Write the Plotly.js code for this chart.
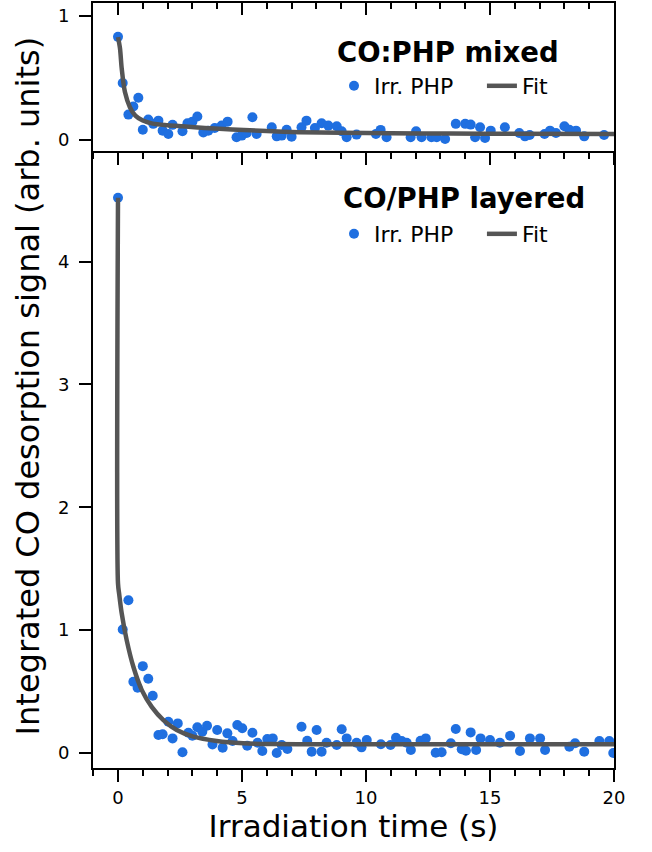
<!DOCTYPE html>
<html>
<head>
<meta charset="utf-8">
<script src="https://cdn.plot.ly/plotly-3.0.1.min.js"></script>
<style>html,body{margin:0;padding:0;background:#fff;}#chart{width:652px;height:852px;}</style>
</head>
<body>
<div id="chart"></div>
<script>
// ---- Data ----
// Top panel: CO:PHP mixed
const mixedTime = [0, 0.19, 0.42, 0.62, 0.82, 1.0, 1.22, 1.42, 1.63, 1.8, 2.03, 2.2, 2.6, 2.8, 3.0, 3.2, 3.44, 3.64, 3.9, 4.18, 4.42, 4.78, 4.99, 5.19, 5.42, 5.59, 6.2, 6.4, 6.6, 6.8, 7.0, 7.4, 7.6, 7.94, 8.21, 8.48, 8.82, 9.02, 9.22, 9.62, 10.4, 10.59, 10.83, 11.8, 12.02, 12.24, 12.64, 12.85, 13.19, 13.62, 14.0, 14.22, 14.4, 14.6, 14.8, 15.03, 15.6, 16.18, 16.41, 16.6, 17.2, 17.42, 17.66, 18.0, 18.2, 18.47, 18.8, 19.6];
const mixedSignal = [0.832, 0.458, 0.203, 0.268, 0.339, 0.081, 0.163, 0.128, 0.154, 0.073, 0.046, 0.12, 0.068, 0.133, 0.146, 0.187, 0.059, 0.073, 0.095, 0.114, 0.146, 0.019, 0.033, 0.054, 0.181, 0.046, 0.1, 0.027, 0.033, 0.081, 0.024, 0.1, 0.154, 0.095, 0.133, 0.114, 0.108, 0.068, 0.019, 0.041, 0.046, 0.079, 0.019, 0.019, 0.068, 0.019, 0.019, 0.019, 0.005, 0.128, 0.128, 0.122, 0.019, 0.1, 0.014, 0.073, 0.1, 0.054, 0.027, 0.038, 0.046, 0.073, 0.054, 0.108, 0.081, 0.073, 0.027, 0.038];
const mixedFitTime = [0, 0.08, 0.15, 0.28, 0.48, 0.7, 1.0, 1.4, 2.0, 2.6, 3.5, 4.6, 6.0, 7.3, 9.0, 11.0, 13.4, 16.0, 20.0];
const mixedFit = [0.83, 0.74, 0.575, 0.385, 0.263, 0.195, 0.155, 0.13, 0.117, 0.108, 0.095, 0.082, 0.07, 0.061, 0.056, 0.052, 0.05, 0.048, 0.046];

// Bottom panel: CO/PHP layered
const layeredTime = [0, 0.19, 0.42, 0.62, 0.79, 1.0, 1.22, 1.4, 1.63, 1.8, 2.03, 2.2, 2.41, 2.6, 2.84, 3.0, 3.2, 3.4, 3.59, 3.81, 4.0, 4.22, 4.41, 4.62, 4.81, 5.01, 5.21, 5.42, 5.63, 5.82, 6.02, 6.24, 6.4, 6.6, 6.83, 7.4, 7.63, 7.81, 8.01, 8.21, 8.41, 8.82, 9.02, 9.22, 9.62, 9.82, 10.03, 10.6, 10.99, 11.21, 11.44, 11.64, 11.81, 12.2, 12.41, 12.81, 13.05, 13.42, 13.62, 13.86, 14.03, 14.22, 14.44, 14.62, 15.0, 15.4, 15.81, 16.21, 16.61, 17.02, 17.22, 18.2, 18.43, 18.8, 19.41, 19.81, 19.97];
const layeredSignal = [4.52, 1.005, 1.244, 0.58, 0.531, 0.707, 0.604, 0.466, 0.146, 0.152, 0.255, 0.119, 0.241, 0.006, 0.165, 0.141, 0.209, 0.173, 0.222, 0.07, 0.187, 0.043, 0.16, 0.098, 0.228, 0.201, 0.059, 0.165, 0.084, 0.016, 0.114, 0.119, 0.0, 0.065, 0.033, 0.214, 0.1, 0.011, 0.187, 0.011, 0.084, 0.065, 0.193, 0.119, 0.084, 0.046, 0.106, 0.071, 0.065, 0.124, 0.098, 0.084, 0.024, 0.1, 0.119, 0.002, 0.006, 0.079, 0.195, 0.03, 0.019, 0.168, 0.024, 0.119, 0.106, 0.084, 0.141, 0.016, 0.119, 0.119, 0.024, 0.051, 0.079, 0.011, 0.098, 0.098, 0.0];
const layeredFitTime = [0, 0, 0.05, 0.15, 0.35, 0.62, 0.96, 1.36, 1.83, 2.37, 3.04, 3.98, 5.05, 6.13, 8.0, 12.0, 16.0, 20.0];
const layeredFit = [4.52, 1.38, 1.29, 1.136, 0.919, 0.702, 0.512, 0.376, 0.268, 0.187, 0.133, 0.098, 0.079, 0.073, 0.071, 0.071, 0.071, 0.071];

const xTickVals = [0, 5, 10, 15, 20];
const panelTitles = ['CO:PHP mixed', 'CO/PHP layered'];
const seriesNames = ['Irr. PHP', 'Fit'];
const xTitle = 'Irradiation time (s)';
const yTitle = 'Integrated CO desorption signal (arb. units)';

// ---- Styles ----
const dotColor = '#1f6fe0';
const fitColor = '#555555';
const FONT = 'DejaVu Sans, Verdana, sans-serif';
const split = 0.8068;

const traces = [
  {x: mixedTime, y: mixedSignal, xaxis: 'x2', yaxis: 'y2', mode: 'markers', name: seriesNames[0],
   marker: {color: dotColor, size: 10}, legend: 'legend'},
  {x: mixedFitTime, y: mixedFit, xaxis: 'x2', yaxis: 'y2', mode: 'lines', name: seriesNames[1],
   line: {color: fitColor, width: 4.5, shape: 'spline', smoothing: 0.8}, legend: 'legend2'},
  {x: layeredTime, y: layeredSignal, xaxis: 'x', yaxis: 'y', mode: 'markers', name: seriesNames[0],
   marker: {color: dotColor, size: 10}, legend: 'legend3'},
  {x: layeredFitTime, y: layeredFit, xaxis: 'x', yaxis: 'y', mode: 'lines', name: seriesNames[1],
   line: {color: fitColor, width: 4.5, shape: 'spline', smoothing: 0.8}, legend: 'legend4'},
  // invisible helper trace for top mirror axis
  {x: [0], y: [0], xaxis: 'x3', yaxis: 'y2', mode: 'markers', marker: {opacity: 0}, showlegend: false, hoverinfo: 'skip'}
];

const xRange = [-1.008, 20];
const tickFont = {family: FONT, size: 18, color: '#000'};
const baseX = {
  range: xRange, tickvals: xTickVals, ticks: 'outside', ticklen: 12, tickwidth: 2, tickcolor: '#000',
  showline: true, linewidth: 2, linecolor: '#000', zeroline: false, showgrid: false,
  minor: {dtick: 1, tick0: 0, ticks: 'outside', ticklen: 6, tickwidth: 2, tickcolor: '#000', showgrid: false}
};

const legendBase = {orientation: 'h', xanchor: 'left', yanchor: 'middle',
  font: {family: FONT, size: 22}, bgcolor: 'rgba(0,0,0,0)', itemwidth: 30, tracegroupgap: 0};

const layout = {
  width: 652, height: 852,
  margin: {l: 93, r: 38, t: 3, b: 84},
  paper_bgcolor: '#fff', plot_bgcolor: '#fff',
  font: {family: FONT, color: '#000'},
  xaxis: Object.assign({}, baseX, {
    anchor: 'y', tickfont: tickFont, ticklabelstandoff: 0,
    title: {text: xTitle, font: {family: FONT, size: 31}, standoff: 9}
  }),
  xaxis2: Object.assign({}, baseX, {anchor: 'y2', showticklabels: false, matches: 'x'}),
  xaxis3: Object.assign({}, baseX, {anchor: 'y2', overlaying: 'x2', side: 'top', ticks: 'inside', showticklabels: false,
    minor: {dtick: 1, tick0: 0, ticks: 'inside', ticklen: 6, tickwidth: 2, tickcolor: '#000', showgrid: false}}),
  yaxis: {
    domain: [0, split], range: [-0.122, 4.902], dtick: 1, tick0: 0, ticks: 'outside', ticklen: 12, tickwidth: 2,
    tickcolor: '#000', showline: true, linewidth: 2, linecolor: '#000', mirror: true, zeroline: false, showgrid: false,
    tickfont: tickFont, ticklabelstandoff: 6
  },
  yaxis2: {
    domain: [split, 1], range: [-0.09, 1.106], tickvals: [0, 1], ticks: 'outside', ticklen: 12, tickwidth: 2,
    tickcolor: '#000', showline: true, linewidth: 2, linecolor: '#000', mirror: true, zeroline: false, showgrid: false,
    tickfont: tickFont, ticklabelstandoff: 6
  },
  legend: Object.assign({}, legendBase, {x: 0.4626, y: 0.8915}),
  legend2: Object.assign({}, legendBase, {x: 0.7465, y: 0.8915}),
  legend3: Object.assign({}, legendBase, {x: 0.4626, y: 0.698}),
  legend4: Object.assign({}, legendBase, {x: 0.7465, y: 0.698}),
  annotations: [
    {text: '<b>' + panelTitles[0] + '</b>', xref: 'paper', yref: 'paper', x: 0.898, y: 0.936,
     xanchor: 'right', yanchor: 'middle', showarrow: false, font: {family: FONT, size: 27.5, color: '#000'}},
    {text: '<b>' + panelTitles[1] + '</b>', xref: 'paper', yref: 'paper', x: 0.949, y: 0.745,
     xanchor: 'right', yanchor: 'middle', showarrow: false, font: {family: FONT, size: 27.5, color: '#000'}},
    {text: yTitle, xref: 'paper', yref: 'paper', x: -0.125, y: 0.5, textangle: -90,
     xanchor: 'center', yanchor: 'middle', showarrow: false, font: {family: FONT, size: 32, color: '#000'}}
  ],
  showlegend: true
};

Plotly.newPlot('chart', traces, layout, {displayModeBar: false, staticPlot: true});
</script>
</body>
</html>
